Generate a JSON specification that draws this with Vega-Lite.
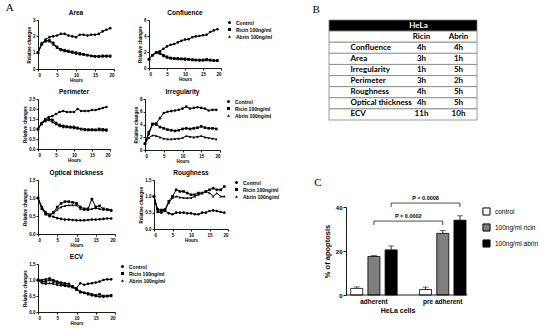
{
"$schema":"https://vega.github.io/schema/vega-lite/v6.json",
"padding":{"left":5,"top":1,"right":0,"bottom":0},
"config":{
 "view":{"stroke":null},
 "font":"Liberation Sans",
 "axis":{"grid":false,"domainColor":"black","tickColor":"black","labelColor":"black","titleColor":"black","labelFontWeight":"bold","titleFontWeight":"bold","labelFontSize":4.5,"titleFontSize":4.5,"tickSize":2,"labelPadding":1,"titlePadding":1,"domainWidth":0.9,"tickWidth":0.9},
 "title":{"fontSize":6.5,"fontWeight":"bold","color":"black","offset":1},
 "legend":{"labelFontSize":5,"labelFontWeight":"bold","labelColor":"black","symbolSize":9,"rowPadding":1,"padding":0,"offset":6,"symbolStrokeWidth":0}
},
"datasets":{
"area":[
{"h":0,"s":"Control","v":1.0},{"h":1,"s":"Control","v":1.5},{"h":2,"s":"Control","v":1.8},{"h":3,"s":"Control","v":1.95},{"h":4,"s":"Control","v":2.0},{"h":5,"s":"Control","v":2.05},{"h":6,"s":"Control","v":2.15},{"h":7,"s":"Control","v":2.15},{"h":8,"s":"Control","v":2.05},{"h":9,"s":"Control","v":2.0},{"h":10,"s":"Control","v":1.95},{"h":11,"s":"Control","v":2.1},{"h":12,"s":"Control","v":2.1},{"h":13,"s":"Control","v":2.05},{"h":14,"s":"Control","v":2.1},{"h":15,"s":"Control","v":2.1},{"h":16,"s":"Control","v":2.15},{"h":17,"s":"Control","v":2.3},{"h":18,"s":"Control","v":2.4},{"h":19,"s":"Control","v":2.5},
{"h":0,"s":"Ricin 100ng/ml","v":1.0},{"h":1,"s":"Ricin 100ng/ml","v":1.55},{"h":2,"s":"Ricin 100ng/ml","v":1.7},{"h":3,"s":"Ricin 100ng/ml","v":1.75},{"h":4,"s":"Ricin 100ng/ml","v":1.6},{"h":5,"s":"Ricin 100ng/ml","v":1.35},{"h":6,"s":"Ricin 100ng/ml","v":1.2},{"h":7,"s":"Ricin 100ng/ml","v":1.15},{"h":8,"s":"Ricin 100ng/ml","v":1.1},{"h":9,"s":"Ricin 100ng/ml","v":1.05},{"h":10,"s":"Ricin 100ng/ml","v":1.0},{"h":11,"s":"Ricin 100ng/ml","v":0.95},{"h":12,"s":"Ricin 100ng/ml","v":0.9},{"h":13,"s":"Ricin 100ng/ml","v":0.85},{"h":14,"s":"Ricin 100ng/ml","v":0.8},{"h":15,"s":"Ricin 100ng/ml","v":0.78},{"h":16,"s":"Ricin 100ng/ml","v":0.78},{"h":17,"s":"Ricin 100ng/ml","v":0.8},{"h":18,"s":"Ricin 100ng/ml","v":0.8},{"h":19,"s":"Ricin 100ng/ml","v":0.8},
{"h":0,"s":"Abrin 100ng/ml","v":1.0},{"h":1,"s":"Abrin 100ng/ml","v":1.6},{"h":2,"s":"Abrin 100ng/ml","v":1.75},{"h":3,"s":"Abrin 100ng/ml","v":1.7},{"h":4,"s":"Abrin 100ng/ml","v":1.5},{"h":5,"s":"Abrin 100ng/ml","v":1.3},{"h":6,"s":"Abrin 100ng/ml","v":1.15},{"h":7,"s":"Abrin 100ng/ml","v":1.1},{"h":8,"s":"Abrin 100ng/ml","v":1.05},{"h":9,"s":"Abrin 100ng/ml","v":1.0},{"h":10,"s":"Abrin 100ng/ml","v":0.95},{"h":11,"s":"Abrin 100ng/ml","v":0.9},{"h":12,"s":"Abrin 100ng/ml","v":0.88},{"h":13,"s":"Abrin 100ng/ml","v":0.85},{"h":14,"s":"Abrin 100ng/ml","v":0.8},{"h":15,"s":"Abrin 100ng/ml","v":0.78},{"h":16,"s":"Abrin 100ng/ml","v":0.75},{"h":17,"s":"Abrin 100ng/ml","v":0.78},{"h":18,"s":"Abrin 100ng/ml","v":0.78},{"h":19,"s":"Abrin 100ng/ml","v":0.78}
],
"conf":[
{"h":0,"s":"Control","v":1.1},{"h":1,"s":"Control","v":1.6},{"h":2,"s":"Control","v":1.95},{"h":3,"s":"Control","v":2.1},{"h":4,"s":"Control","v":2.4},{"h":5,"s":"Control","v":2.7},{"h":6,"s":"Control","v":2.9},{"h":7,"s":"Control","v":3.0},{"h":8,"s":"Control","v":3.2},{"h":9,"s":"Control","v":3.4},{"h":10,"s":"Control","v":3.55},{"h":11,"s":"Control","v":3.6},{"h":12,"s":"Control","v":3.85},{"h":13,"s":"Control","v":3.95},{"h":14,"s":"Control","v":4.0},{"h":15,"s":"Control","v":4.1},{"h":16,"s":"Control","v":4.15},{"h":17,"s":"Control","v":4.5},{"h":18,"s":"Control","v":4.7},{"h":19,"s":"Control","v":4.85},
{"h":0,"s":"Ricin 100ng/ml","v":1.1},{"h":1,"s":"Ricin 100ng/ml","v":1.6},{"h":2,"s":"Ricin 100ng/ml","v":1.9},{"h":3,"s":"Ricin 100ng/ml","v":1.9},{"h":4,"s":"Ricin 100ng/ml","v":1.6},{"h":5,"s":"Ricin 100ng/ml","v":1.4},{"h":6,"s":"Ricin 100ng/ml","v":1.25},{"h":7,"s":"Ricin 100ng/ml","v":1.2},{"h":8,"s":"Ricin 100ng/ml","v":1.2},{"h":9,"s":"Ricin 100ng/ml","v":1.15},{"h":10,"s":"Ricin 100ng/ml","v":1.15},{"h":11,"s":"Ricin 100ng/ml","v":1.1},{"h":12,"s":"Ricin 100ng/ml","v":1.05},{"h":13,"s":"Ricin 100ng/ml","v":1.0},{"h":14,"s":"Ricin 100ng/ml","v":1.0},{"h":15,"s":"Ricin 100ng/ml","v":1.0},{"h":16,"s":"Ricin 100ng/ml","v":1.1},{"h":17,"s":"Ricin 100ng/ml","v":1.0},{"h":18,"s":"Ricin 100ng/ml","v":0.95},{"h":19,"s":"Ricin 100ng/ml","v":0.95},
{"h":0,"s":"Abrin 100ng/ml","v":1.1},{"h":1,"s":"Abrin 100ng/ml","v":1.65},{"h":2,"s":"Abrin 100ng/ml","v":2.0},{"h":3,"s":"Abrin 100ng/ml","v":1.8},{"h":4,"s":"Abrin 100ng/ml","v":1.5},{"h":5,"s":"Abrin 100ng/ml","v":1.3},{"h":6,"s":"Abrin 100ng/ml","v":1.2},{"h":7,"s":"Abrin 100ng/ml","v":1.15},{"h":8,"s":"Abrin 100ng/ml","v":1.1},{"h":9,"s":"Abrin 100ng/ml","v":1.1},{"h":10,"s":"Abrin 100ng/ml","v":1.05},{"h":11,"s":"Abrin 100ng/ml","v":1.05},{"h":12,"s":"Abrin 100ng/ml","v":1.0},{"h":13,"s":"Abrin 100ng/ml","v":1.0},{"h":14,"s":"Abrin 100ng/ml","v":0.95},{"h":15,"s":"Abrin 100ng/ml","v":0.95},{"h":16,"s":"Abrin 100ng/ml","v":1.0},{"h":17,"s":"Abrin 100ng/ml","v":0.95},{"h":18,"s":"Abrin 100ng/ml","v":0.9},{"h":19,"s":"Abrin 100ng/ml","v":0.9}
],
"perim":[
{"h":0,"s":"Control","v":1.0},{"h":1,"s":"Control","v":1.3},{"h":2,"s":"Control","v":1.5},{"h":3,"s":"Control","v":1.6},{"h":4,"s":"Control","v":1.65},{"h":5,"s":"Control","v":1.75},{"h":6,"s":"Control","v":1.85},{"h":7,"s":"Control","v":1.9},{"h":8,"s":"Control","v":1.85},{"h":9,"s":"Control","v":1.85},{"h":10,"s":"Control","v":1.85},{"h":11,"s":"Control","v":2.0},{"h":12,"s":"Control","v":1.9},{"h":13,"s":"Control","v":1.9},{"h":14,"s":"Control","v":1.9},{"h":15,"s":"Control","v":1.95},{"h":16,"s":"Control","v":1.95},{"h":17,"s":"Control","v":2.0},{"h":18,"s":"Control","v":2.05},{"h":19,"s":"Control","v":2.1},
{"h":0,"s":"Ricin 100ng/ml","v":1.0},{"h":1,"s":"Ricin 100ng/ml","v":1.25},{"h":2,"s":"Ricin 100ng/ml","v":1.4},{"h":3,"s":"Ricin 100ng/ml","v":1.5},{"h":4,"s":"Ricin 100ng/ml","v":1.45},{"h":5,"s":"Ricin 100ng/ml","v":1.3},{"h":6,"s":"Ricin 100ng/ml","v":1.2},{"h":7,"s":"Ricin 100ng/ml","v":1.15},{"h":8,"s":"Ricin 100ng/ml","v":1.12},{"h":9,"s":"Ricin 100ng/ml","v":1.1},{"h":10,"s":"Ricin 100ng/ml","v":1.1},{"h":11,"s":"Ricin 100ng/ml","v":1.05},{"h":12,"s":"Ricin 100ng/ml","v":1.0},{"h":13,"s":"Ricin 100ng/ml","v":0.98},{"h":14,"s":"Ricin 100ng/ml","v":0.97},{"h":15,"s":"Ricin 100ng/ml","v":0.97},{"h":16,"s":"Ricin 100ng/ml","v":0.96},{"h":17,"s":"Ricin 100ng/ml","v":1.0},{"h":18,"s":"Ricin 100ng/ml","v":0.98},{"h":19,"s":"Ricin 100ng/ml","v":0.96},
{"h":0,"s":"Abrin 100ng/ml","v":1.0},{"h":1,"s":"Abrin 100ng/ml","v":1.3},{"h":2,"s":"Abrin 100ng/ml","v":1.45},{"h":3,"s":"Abrin 100ng/ml","v":1.45},{"h":4,"s":"Abrin 100ng/ml","v":1.35},{"h":5,"s":"Abrin 100ng/ml","v":1.25},{"h":6,"s":"Abrin 100ng/ml","v":1.15},{"h":7,"s":"Abrin 100ng/ml","v":1.1},{"h":8,"s":"Abrin 100ng/ml","v":1.1},{"h":9,"s":"Abrin 100ng/ml","v":1.08},{"h":10,"s":"Abrin 100ng/ml","v":1.05},{"h":11,"s":"Abrin 100ng/ml","v":1.03},{"h":12,"s":"Abrin 100ng/ml","v":1.0},{"h":13,"s":"Abrin 100ng/ml","v":0.95},{"h":14,"s":"Abrin 100ng/ml","v":0.95},{"h":15,"s":"Abrin 100ng/ml","v":0.95},{"h":16,"s":"Abrin 100ng/ml","v":0.95},{"h":17,"s":"Abrin 100ng/ml","v":0.95},{"h":18,"s":"Abrin 100ng/ml","v":0.93},{"h":19,"s":"Abrin 100ng/ml","v":0.92}
],
"irreg":[
{"h":0,"s":"Control","v":1.0},{"h":1,"s":"Control","v":2.5},{"h":2,"s":"Control","v":4.0},{"h":3,"s":"Control","v":4.2},{"h":4,"s":"Control","v":5.0},{"h":5,"s":"Control","v":5.8},{"h":6,"s":"Control","v":6.0},{"h":7,"s":"Control","v":6.1},{"h":8,"s":"Control","v":6.2},{"h":9,"s":"Control","v":6.3},{"h":10,"s":"Control","v":6.5},{"h":11,"s":"Control","v":6.8},{"h":12,"s":"Control","v":6.5},{"h":13,"s":"Control","v":6.6},{"h":14,"s":"Control","v":6.7},{"h":15,"s":"Control","v":6.6},{"h":16,"s":"Control","v":6.5},{"h":17,"s":"Control","v":6.2},{"h":18,"s":"Control","v":6.3},{"h":19,"s":"Control","v":6.3},
{"h":0,"s":"Ricin 100ng/ml","v":1.0},{"h":1,"s":"Ricin 100ng/ml","v":2.8},{"h":2,"s":"Ricin 100ng/ml","v":4.1},{"h":3,"s":"Ricin 100ng/ml","v":4.0},{"h":4,"s":"Ricin 100ng/ml","v":3.6},{"h":5,"s":"Ricin 100ng/ml","v":3.4},{"h":6,"s":"Ricin 100ng/ml","v":3.2},{"h":7,"s":"Ricin 100ng/ml","v":3.1},{"h":8,"s":"Ricin 100ng/ml","v":3.0},{"h":9,"s":"Ricin 100ng/ml","v":3.1},{"h":10,"s":"Ricin 100ng/ml","v":3.3},{"h":11,"s":"Ricin 100ng/ml","v":3.4},{"h":12,"s":"Ricin 100ng/ml","v":3.3},{"h":13,"s":"Ricin 100ng/ml","v":3.4},{"h":14,"s":"Ricin 100ng/ml","v":3.5},{"h":15,"s":"Ricin 100ng/ml","v":3.7},{"h":16,"s":"Ricin 100ng/ml","v":3.5},{"h":17,"s":"Ricin 100ng/ml","v":3.4},{"h":18,"s":"Ricin 100ng/ml","v":3.4},{"h":19,"s":"Ricin 100ng/ml","v":3.3},
{"h":0,"s":"Abrin 100ng/ml","v":1.0},{"h":1,"s":"Abrin 100ng/ml","v":1.9},{"h":2,"s":"Abrin 100ng/ml","v":2.3},{"h":3,"s":"Abrin 100ng/ml","v":2.2},{"h":4,"s":"Abrin 100ng/ml","v":2.0},{"h":5,"s":"Abrin 100ng/ml","v":1.8},{"h":6,"s":"Abrin 100ng/ml","v":1.7},{"h":7,"s":"Abrin 100ng/ml","v":1.7},{"h":8,"s":"Abrin 100ng/ml","v":1.75},{"h":9,"s":"Abrin 100ng/ml","v":1.8},{"h":10,"s":"Abrin 100ng/ml","v":1.9},{"h":11,"s":"Abrin 100ng/ml","v":2.2},{"h":12,"s":"Abrin 100ng/ml","v":2.1},{"h":13,"s":"Abrin 100ng/ml","v":2.0},{"h":14,"s":"Abrin 100ng/ml","v":2.1},{"h":15,"s":"Abrin 100ng/ml","v":2.2},{"h":16,"s":"Abrin 100ng/ml","v":2.0},{"h":17,"s":"Abrin 100ng/ml","v":1.9},{"h":18,"s":"Abrin 100ng/ml","v":1.8},{"h":19,"s":"Abrin 100ng/ml","v":1.7}
],
"opt":[
{"h":0,"s":"Control","v":1.0},{"h":1,"s":"Control","v":0.75},{"h":2,"s":"Control","v":0.6},{"h":3,"s":"Control","v":0.52},{"h":4,"s":"Control","v":0.48},{"h":5,"s":"Control","v":0.44},{"h":6,"s":"Control","v":0.42},{"h":7,"s":"Control","v":0.4},{"h":8,"s":"Control","v":0.4},{"h":9,"s":"Control","v":0.39},{"h":10,"s":"Control","v":0.38},{"h":11,"s":"Control","v":0.38},{"h":12,"s":"Control","v":0.38},{"h":13,"s":"Control","v":0.39},{"h":14,"s":"Control","v":0.4},{"h":15,"s":"Control","v":0.4},{"h":16,"s":"Control","v":0.41},{"h":17,"s":"Control","v":0.42},{"h":18,"s":"Control","v":0.43},{"h":19,"s":"Control","v":0.43},
{"h":0,"s":"Ricin 100ng/ml","v":1.0},{"h":1,"s":"Ricin 100ng/ml","v":0.7},{"h":2,"s":"Ricin 100ng/ml","v":0.55},{"h":3,"s":"Ricin 100ng/ml","v":0.5},{"h":4,"s":"Ricin 100ng/ml","v":0.6},{"h":5,"s":"Ricin 100ng/ml","v":0.75},{"h":6,"s":"Ricin 100ng/ml","v":0.85},{"h":7,"s":"Ricin 100ng/ml","v":0.9},{"h":8,"s":"Ricin 100ng/ml","v":0.9},{"h":9,"s":"Ricin 100ng/ml","v":0.88},{"h":10,"s":"Ricin 100ng/ml","v":0.85},{"h":11,"s":"Ricin 100ng/ml","v":0.75},{"h":12,"s":"Ricin 100ng/ml","v":0.7},{"h":13,"s":"Ricin 100ng/ml","v":0.7},{"h":14,"s":"Ricin 100ng/ml","v":0.97},{"h":15,"s":"Ricin 100ng/ml","v":0.75},{"h":16,"s":"Ricin 100ng/ml","v":0.78},{"h":17,"s":"Ricin 100ng/ml","v":0.7},{"h":18,"s":"Ricin 100ng/ml","v":0.68},{"h":19,"s":"Ricin 100ng/ml","v":0.65},
{"h":0,"s":"Abrin 100ng/ml","v":1.0},{"h":1,"s":"Abrin 100ng/ml","v":0.72},{"h":2,"s":"Abrin 100ng/ml","v":0.58},{"h":3,"s":"Abrin 100ng/ml","v":0.55},{"h":4,"s":"Abrin 100ng/ml","v":0.58},{"h":5,"s":"Abrin 100ng/ml","v":0.68},{"h":6,"s":"Abrin 100ng/ml","v":0.75},{"h":7,"s":"Abrin 100ng/ml","v":0.78},{"h":8,"s":"Abrin 100ng/ml","v":0.8},{"h":9,"s":"Abrin 100ng/ml","v":0.8},{"h":10,"s":"Abrin 100ng/ml","v":0.8},{"h":11,"s":"Abrin 100ng/ml","v":0.7},{"h":12,"s":"Abrin 100ng/ml","v":0.68},{"h":13,"s":"Abrin 100ng/ml","v":0.67},{"h":14,"s":"Abrin 100ng/ml","v":0.7},{"h":15,"s":"Abrin 100ng/ml","v":0.72},{"h":16,"s":"Abrin 100ng/ml","v":0.7},{"h":17,"s":"Abrin 100ng/ml","v":0.68},{"h":18,"s":"Abrin 100ng/ml","v":0.68},{"h":19,"s":"Abrin 100ng/ml","v":0.68}
],
"rough":[
{"h":0,"s":"Control","v":1.0},{"h":1,"s":"Control","v":0.52},{"h":2,"s":"Control","v":0.5},{"h":3,"s":"Control","v":0.55},{"h":4,"s":"Control","v":0.48},{"h":5,"s":"Control","v":0.45},{"h":6,"s":"Control","v":0.5},{"h":7,"s":"Control","v":0.5},{"h":8,"s":"Control","v":0.5},{"h":9,"s":"Control","v":0.48},{"h":10,"s":"Control","v":0.48},{"h":11,"s":"Control","v":0.45},{"h":12,"s":"Control","v":0.45},{"h":13,"s":"Control","v":0.5},{"h":14,"s":"Control","v":0.5},{"h":15,"s":"Control","v":0.55},{"h":16,"s":"Control","v":0.57},{"h":17,"s":"Control","v":0.55},{"h":18,"s":"Control","v":0.52},{"h":19,"s":"Control","v":0.5},
{"h":0,"s":"Ricin 100ng/ml","v":1.0},{"h":1,"s":"Ricin 100ng/ml","v":0.6},{"h":2,"s":"Ricin 100ng/ml","v":0.58},{"h":3,"s":"Ricin 100ng/ml","v":0.6},{"h":4,"s":"Ricin 100ng/ml","v":0.85},{"h":5,"s":"Ricin 100ng/ml","v":1.0},{"h":6,"s":"Ricin 100ng/ml","v":1.2},{"h":7,"s":"Ricin 100ng/ml","v":1.15},{"h":8,"s":"Ricin 100ng/ml","v":1.15},{"h":9,"s":"Ricin 100ng/ml","v":1.1},{"h":10,"s":"Ricin 100ng/ml","v":1.05},{"h":11,"s":"Ricin 100ng/ml","v":1.05},{"h":12,"s":"Ricin 100ng/ml","v":1.1},{"h":13,"s":"Ricin 100ng/ml","v":1.1},{"h":14,"s":"Ricin 100ng/ml","v":1.15},{"h":15,"s":"Ricin 100ng/ml","v":1.2},{"h":16,"s":"Ricin 100ng/ml","v":1.25},{"h":17,"s":"Ricin 100ng/ml","v":1.2},{"h":18,"s":"Ricin 100ng/ml","v":1.2},{"h":19,"s":"Ricin 100ng/ml","v":1.3},
{"h":0,"s":"Abrin 100ng/ml","v":1.0},{"h":1,"s":"Abrin 100ng/ml","v":0.55},{"h":2,"s":"Abrin 100ng/ml","v":0.55},{"h":3,"s":"Abrin 100ng/ml","v":0.58},{"h":4,"s":"Abrin 100ng/ml","v":0.8},{"h":5,"s":"Abrin 100ng/ml","v":0.95},{"h":6,"s":"Abrin 100ng/ml","v":1.0},{"h":7,"s":"Abrin 100ng/ml","v":0.97},{"h":8,"s":"Abrin 100ng/ml","v":0.95},{"h":9,"s":"Abrin 100ng/ml","v":0.95},{"h":10,"s":"Abrin 100ng/ml","v":0.95},{"h":11,"s":"Abrin 100ng/ml","v":1.0},{"h":12,"s":"Abrin 100ng/ml","v":1.05},{"h":13,"s":"Abrin 100ng/ml","v":1.1},{"h":14,"s":"Abrin 100ng/ml","v":1.15},{"h":15,"s":"Abrin 100ng/ml","v":1.1},{"h":16,"s":"Abrin 100ng/ml","v":1.0},{"h":17,"s":"Abrin 100ng/ml","v":1.1},{"h":18,"s":"Abrin 100ng/ml","v":1.0},{"h":19,"s":"Abrin 100ng/ml","v":1.0}
],
"ecv":[
{"h":0,"s":"Control","v":1.0},{"h":1,"s":"Control","v":1.0},{"h":2,"s":"Control","v":1.02},{"h":3,"s":"Control","v":1.05},{"h":4,"s":"Control","v":1.0},{"h":5,"s":"Control","v":0.95},{"h":6,"s":"Control","v":0.92},{"h":7,"s":"Control","v":0.9},{"h":8,"s":"Control","v":0.88},{"h":9,"s":"Control","v":0.8},{"h":10,"s":"Control","v":0.75},{"h":11,"s":"Control","v":0.9},{"h":12,"s":"Control","v":0.85},{"h":13,"s":"Control","v":0.88},{"h":14,"s":"Control","v":0.9},{"h":15,"s":"Control","v":0.92},{"h":16,"s":"Control","v":0.95},{"h":17,"s":"Control","v":1.0},{"h":18,"s":"Control","v":1.02},{"h":19,"s":"Control","v":1.02},
{"h":0,"s":"Ricin 100ng/ml","v":1.0},{"h":1,"s":"Ricin 100ng/ml","v":0.95},{"h":2,"s":"Ricin 100ng/ml","v":0.95},{"h":3,"s":"Ricin 100ng/ml","v":1.0},{"h":4,"s":"Ricin 100ng/ml","v":0.95},{"h":5,"s":"Ricin 100ng/ml","v":0.92},{"h":6,"s":"Ricin 100ng/ml","v":0.88},{"h":7,"s":"Ricin 100ng/ml","v":0.85},{"h":8,"s":"Ricin 100ng/ml","v":0.82},{"h":9,"s":"Ricin 100ng/ml","v":0.78},{"h":10,"s":"Ricin 100ng/ml","v":0.7},{"h":11,"s":"Ricin 100ng/ml","v":0.62},{"h":12,"s":"Ricin 100ng/ml","v":0.6},{"h":13,"s":"Ricin 100ng/ml","v":0.58},{"h":14,"s":"Ricin 100ng/ml","v":0.55},{"h":15,"s":"Ricin 100ng/ml","v":0.52},{"h":16,"s":"Ricin 100ng/ml","v":0.55},{"h":17,"s":"Ricin 100ng/ml","v":0.5},{"h":18,"s":"Ricin 100ng/ml","v":0.5},{"h":19,"s":"Ricin 100ng/ml","v":0.52},
{"h":0,"s":"Abrin 100ng/ml","v":1.0},{"h":1,"s":"Abrin 100ng/ml","v":0.9},{"h":2,"s":"Abrin 100ng/ml","v":0.88},{"h":3,"s":"Abrin 100ng/ml","v":0.9},{"h":4,"s":"Abrin 100ng/ml","v":0.88},{"h":5,"s":"Abrin 100ng/ml","v":0.85},{"h":6,"s":"Abrin 100ng/ml","v":0.83},{"h":7,"s":"Abrin 100ng/ml","v":0.82},{"h":8,"s":"Abrin 100ng/ml","v":0.8},{"h":9,"s":"Abrin 100ng/ml","v":0.78},{"h":10,"s":"Abrin 100ng/ml","v":0.72},{"h":11,"s":"Abrin 100ng/ml","v":0.65},{"h":12,"s":"Abrin 100ng/ml","v":0.6},{"h":13,"s":"Abrin 100ng/ml","v":0.55},{"h":14,"s":"Abrin 100ng/ml","v":0.52},{"h":15,"s":"Abrin 100ng/ml","v":0.5},{"h":16,"s":"Abrin 100ng/ml","v":0.48},{"h":17,"s":"Abrin 100ng/ml","v":0.48},{"h":18,"s":"Abrin 100ng/ml","v":0.5},{"h":19,"s":"Abrin 100ng/ml","v":0.5}
],
"tbl":[
{"row":"head","col":"label","txt":""},{"row":"head","col":"Ricin","txt":"HeLa"},
{"row":"sub","col":"label","txt":""},{"row":"sub","col":"Ricin","txt":"Ricin"},{"row":"sub","col":"Abrin","txt":"Abrin"},
{"row":"Confluence","col":"label","txt":"Confluence"},{"row":"Confluence","col":"Ricin","txt":"4h"},{"row":"Confluence","col":"Abrin","txt":"4h"},
{"row":"Area","col":"label","txt":"Area"},{"row":"Area","col":"Ricin","txt":"3h"},{"row":"Area","col":"Abrin","txt":"1h"},
{"row":"Irregularity","col":"label","txt":"Irregularity"},{"row":"Irregularity","col":"Ricin","txt":"1h"},{"row":"Irregularity","col":"Abrin","txt":"5h"},
{"row":"Perimeter","col":"label","txt":"Perimeter"},{"row":"Perimeter","col":"Ricin","txt":"3h"},{"row":"Perimeter","col":"Abrin","txt":"2h"},
{"row":"Roughness","col":"label","txt":"Roughness"},{"row":"Roughness","col":"Ricin","txt":"4h"},{"row":"Roughness","col":"Abrin","txt":"5h"},
{"row":"Optical thickness","col":"label","txt":"Optical thickness"},{"row":"Optical thickness","col":"Ricin","txt":"4h"},{"row":"Optical thickness","col":"Abrin","txt":"5h"},
{"row":"ECV","col":"label","txt":"ECV"},{"row":"ECV","col":"Ricin","txt":"11h"},{"row":"ECV","col":"Abrin","txt":"10h"}
],
"apop":[
{"k":"a-control","t":"control","v":3.0,"hi":3.7},
{"k":"a-ricin","t":"100ng/ml ricin","v":17.5,"hi":17.9},
{"k":"a-abrin","t":"100ng/ml abrin","v":20.5,"hi":22.3},
{"k":"p-control","t":"control","v":2.5,"hi":3.6},
{"k":"p-ricin","t":"100ng/ml ricin","v":28.0,"hi":29.3},
{"k":"p-abrin","t":"100ng/ml abrin","v":34.0,"hi":36.0}
],
"br":[
{"a":"a-ricin","b":"p-ricin","m":"gap","y":33.6,"lo":31.8,"lab":"P = 0.0002"},
{"a":"a-abrin","b":"p-abrin","m":"p-control","y":41.8,"lo":40.0,"lab":"P = 0.0008"}
]
},
"spacing":32,
"resolve":{"scale":{"shape":"independent","fill":"independent"},"legend":{"shape":"independent","fill":"independent"}},
"hconcat":[
{
 "title":{"text":"A","anchor":"start","frame":"bounds","font":"Liberation Serif","fontSize":11,"fontWeight":"normal","offset":-3,"dx":-17},
 "spacing":6,
 "resolve":{"scale":{"shape":"independent"},"legend":{"shape":"independent"}},
 "vconcat":[
  {"spacing":22,"resolve":{"scale":{"shape":"independent"},"legend":{"shape":"independent"}},"hconcat":[
   {"title":"Area","width":76,"height":49,"data":{"name":"area"},
    "encoding":{"x":{"field":"h","type":"quantitative","scale":{"domain":[0,20]},"axis":{"values":[0,5,10,15,20],"title":"Hours"}},
                "y":{"field":"v","type":"quantitative","scale":{"domain":[0,3]},"axis":{"values":[0,1,2,3],"title":"Relative changes"}}},
    "layer":[{"mark":{"type":"line","color":"black","strokeWidth":1},"encoding":{"detail":{"field":"s"}}},
             {"mark":{"type":"point","filled":true,"color":"black","size":7,"opacity":1},"encoding":{"shape":{"field":"s","type":"nominal","scale":{"domain":["Control","Ricin 100ng/ml","Abrin 100ng/ml"],"range":["circle","square","triangle-up"]},"legend":null}}}]},
   {"title":"Confluence","width":72,"height":48,"data":{"name":"conf"},
    "encoding":{"x":{"field":"h","type":"quantitative","scale":{"domain":[0,20]},"axis":{"values":[0,5,10,15,20],"title":"Hours"}},
                "y":{"field":"v","type":"quantitative","scale":{"domain":[0,6]},"axis":{"values":[0,2,4,6],"title":"Relative changes"}}},
    "layer":[{"mark":{"type":"line","color":"black","strokeWidth":1},"encoding":{"detail":{"field":"s"}}},
             {"mark":{"type":"point","filled":true,"color":"black","size":7,"opacity":1},"encoding":{"shape":{"field":"s","type":"nominal","scale":{"domain":["Control","Ricin 100ng/ml","Abrin 100ng/ml"],"range":["circle","square","triangle-up"]},"legend":{"title":null}}}}]}
  ]},
  {"spacing":22,"resolve":{"scale":{"shape":"independent"},"legend":{"shape":"independent"}},"hconcat":[
   {"title":"Perimeter","width":72,"height":50,"data":{"name":"perim"},
    "encoding":{"x":{"field":"h","type":"quantitative","scale":{"domain":[0,20]},"axis":{"values":[0,5,10,15,20],"title":"Hours"}},
                "y":{"field":"v","type":"quantitative","scale":{"domain":[0,2.5]},"axis":{"values":[0,0.5,1,1.5,2,2.5],"format":".1f","title":"Relative changes"}}},
    "layer":[{"mark":{"type":"line","color":"black","strokeWidth":1},"encoding":{"detail":{"field":"s"}}},
             {"mark":{"type":"point","filled":true,"color":"black","size":7,"opacity":1},"encoding":{"shape":{"field":"s","type":"nominal","scale":{"domain":["Control","Ricin 100ng/ml","Abrin 100ng/ml"],"range":["circle","square","triangle-up"]},"legend":null}}}]},
   {"title":"Irregularity","width":75,"height":51,"data":{"name":"irreg"},
    "encoding":{"x":{"field":"h","type":"quantitative","scale":{"domain":[0,20]},"axis":{"values":[0,5,10,15,20],"title":"Hours"}},
                "y":{"field":"v","type":"quantitative","scale":{"domain":[0,8]},"axis":{"values":[0,2,4,6,8],"title":"Relative changes"}}},
    "layer":[{"mark":{"type":"line","color":"black","strokeWidth":1},"encoding":{"detail":{"field":"s"}}},
             {"mark":{"type":"point","filled":true,"color":"black","size":7,"opacity":1},"encoding":{"shape":{"field":"s","type":"nominal","scale":{"domain":["Control","Ricin 100ng/ml","Abrin 100ng/ml"],"range":["circle","square","triangle-up"]},"legend":{"title":null}}}}]}
  ]},
  {"spacing":22,"resolve":{"scale":{"shape":"independent"},"legend":{"shape":"independent"}},"hconcat":[
   {"title":"Optical thickness","width":77,"height":54,"data":{"name":"opt"},
    "encoding":{"x":{"field":"h","type":"quantitative","scale":{"domain":[0,20]},"axis":{"values":[0,5,10,15,20],"title":"Hours"}},
                "y":{"field":"v","type":"quantitative","scale":{"domain":[0,1.5]},"axis":{"values":[0,0.5,1,1.5],"format":".1f","title":"Relative changes"}}},
    "layer":[{"mark":{"type":"line","color":"black","strokeWidth":1},"encoding":{"detail":{"field":"s"}}},
             {"mark":{"type":"point","filled":true,"color":"black","size":7,"opacity":1},"encoding":{"shape":{"field":"s","type":"nominal","scale":{"domain":["Control","Ricin 100ng/ml","Abrin 100ng/ml"],"range":["circle","square","triangle-up"]},"legend":null}}}]},
   {"title":"Roughness","width":74,"height":49,"data":{"name":"rough"},
    "encoding":{"x":{"field":"h","type":"quantitative","scale":{"domain":[0,20]},"axis":{"values":[0,5,10,15,20],"title":"Hours"}},
                "y":{"field":"v","type":"quantitative","scale":{"domain":[0,1.5]},"axis":{"values":[0,0.5,1,1.5],"format":".1f","title":"Relative changes"}}},
    "layer":[{"mark":{"type":"line","color":"black","strokeWidth":1},"encoding":{"detail":{"field":"s"}}},
             {"mark":{"type":"point","filled":true,"color":"black","size":7,"opacity":1},"encoding":{"shape":{"field":"s","type":"nominal","scale":{"domain":["Control","Ricin 100ng/ml","Abrin 100ng/ml"],"range":["circle","square","triangle-up"]},"legend":{"title":null}}}}]}
  ]},
  {"title":"ECV","width":77,"height":48,"data":{"name":"ecv"},
    "encoding":{"x":{"field":"h","type":"quantitative","scale":{"domain":[0,20]},"axis":{"values":[0,5,10,15,20],"title":"Hours"}},
                "y":{"field":"v","type":"quantitative","scale":{"domain":[0,1.5]},"axis":{"values":[0,0.5,1,1.5],"format":".1f","title":"Relative changes"}}},
    "layer":[{"mark":{"type":"line","color":"black","strokeWidth":1},"encoding":{"detail":{"field":"s"}}},
             {"mark":{"type":"point","filled":true,"color":"black","size":7,"opacity":1},"encoding":{"shape":{"field":"s","type":"nominal","scale":{"domain":["Control","Ricin 100ng/ml","Abrin 100ng/ml"],"range":["circle","square","triangle-up"]},"legend":{"title":null,"offset":5}}}}]}
 ]
},
{
 "spacing":56,
 "resolve":{"scale":{"fill":"independent"},"legend":{"fill":"independent"}},
 "vconcat":[
  {"title":{"text":"B","anchor":"start","frame":"bounds","font":"Liberation Serif","fontSize":11,"fontWeight":"normal","dx":-16,"offset":5},
   "width":148,"height":100,"data":{"name":"tbl"},
   "encoding":{"y":{"field":"row","type":"nominal","scale":{"domain":["head","sub","Confluence","Area","Irregularity","Perimeter","Roughness","Optical thickness","ECV"],"paddingInner":0,"paddingOuter":0},"axis":null}},
   "layer":[
    {"transform":[{"filter":"datum.col==='label'"}],"mark":{"type":"rect","stroke":"#808080","strokeWidth":0.8},
     "encoding":{"fill":{"condition":{"test":"datum.row==='head'","value":"black"},"value":"white"}}},
    {"transform":[{"filter":"datum.col==='label' && datum.row!=='head'"}],"mark":{"type":"text","align":"left","dx":3,"font":"Lato","fontWeight":"bold","fontSize":8,"color":"black"},
     "encoding":{"x":{"field":"col","type":"nominal","bandPosition":0,"scale":{"domain":["label","label2","Ricin","Abrin"],"paddingInner":0,"paddingOuter":0},"axis":null},"text":{"field":"txt"}}},
    {"transform":[{"filter":"datum.col!=='label' && datum.row!=='head'"}],"mark":{"type":"text","font":"Lato","fontWeight":"bold","fontSize":8,"color":"black"},
     "encoding":{"x":{"field":"col","type":"nominal"},"text":{"field":"txt"}}},
    {"transform":[{"filter":"datum.row==='head' && datum.col==='Ricin'"}],"mark":{"type":"text","font":"Lato","fontWeight":"bold","fontSize":8,"color":"white","dx":-3},
     "encoding":{"x":{"field":"col","type":"nominal","bandPosition":1},"text":{"field":"txt"}}}
   ]},
  {"title":{"text":"C","anchor":"start","frame":"bounds","font":"Liberation Serif","fontSize":11,"fontWeight":"normal","offset":8,"dx":-9},
   "width":137,"height":88,
   "layer":[
    {"data":{"name":"apop"},"mark":{"type":"bar","stroke":"black","strokeWidth":0.8},
     "encoding":{"x":{"field":"k","type":"nominal","scale":{"domain":["a-control","a-ricin","a-abrin","gap","p-control","p-ricin","p-abrin"],"paddingInner":0.3,"paddingOuter":0.63,"align":1},
                      "axis":{"title":"HeLa cells","titleFontSize":7,"labelFontSize":6.5,"labelAngle":0,"ticks":false,"domain":false,"labelPadding":3,"titlePadding":2,"labelExpr":"datum.value=='a-ricin'?'adherent':datum.value=='p-ricin'?'pre adherent':''"}},
                 "y":{"field":"v","type":"quantitative","scale":{"domain":[0,40],"nice":false},"axis":{"values":[0,10,20,30,40],"title":"% of apoptosis","titleFontSize":7.5,"labelFontSize":6,"tickSize":3,"titlePadding":4,"offset":-17}},
                 "fill":{"field":"t","type":"nominal","scale":{"domain":["control","100ng/ml ricin","100ng/ml abrin"],"range":["white","#7f7f7f","black"]},
                         "legend":{"title":null,"labelFontSize":6.5,"labelFontWeight":"normal","symbolType":"square","symbolSize":50,"symbolStrokeColor":"black","symbolStrokeWidth":1,"rowPadding":3,"offset":16}}}},
    {"data":{"name":"apop"},"transform":[{"filter":"datum.k==='a-control'"}],"mark":{"type":"rule","strokeWidth":0.9,"color":"black"},
     "encoding":{"x":{"datum":"a-control","type":"nominal","bandPosition":-0.35},"x2":{"datum":"p-abrin","bandPosition":1.1},"y":{"datum":0,"type":"quantitative"}}},
    {"data":{"name":"apop"},"mark":{"type":"rule","strokeWidth":0.8,"color":"black"},
     "encoding":{"x":{"field":"k","type":"nominal"},"y":{"field":"v","type":"quantitative"},"y2":{"field":"hi"}}},
    {"data":{"name":"apop"},"mark":{"type":"tick","orient":"horizontal","size":6,"thickness":0.8,"color":"black"},
     "encoding":{"x":{"field":"k","type":"nominal"},"y":{"field":"hi","type":"quantitative"}}},
    {"data":{"name":"br"},"mark":{"type":"rule","strokeWidth":0.7,"color":"black"},
     "encoding":{"x":{"field":"a","type":"nominal"},"x2":{"field":"b"},"y":{"field":"y","type":"quantitative"}}},
    {"data":{"name":"br"},"mark":{"type":"rule","strokeWidth":0.7,"color":"black"},
     "encoding":{"x":{"field":"a","type":"nominal"},"y":{"field":"y","type":"quantitative"},"y2":{"field":"lo"}}},
    {"data":{"name":"br"},"mark":{"type":"rule","strokeWidth":0.7,"color":"black"},
     "encoding":{"x":{"field":"b","type":"nominal"},"y":{"field":"y","type":"quantitative"},"y2":{"field":"lo"}}},
    {"data":{"name":"br"},"mark":{"type":"text","fontSize":5.5,"fontWeight":"bold","dy":-5,"color":"black"},
     "encoding":{"x":{"field":"m","type":"nominal"},"y":{"field":"y","type":"quantitative"},"text":{"field":"lab"}}}
   ]}
 ]
}
]
}
